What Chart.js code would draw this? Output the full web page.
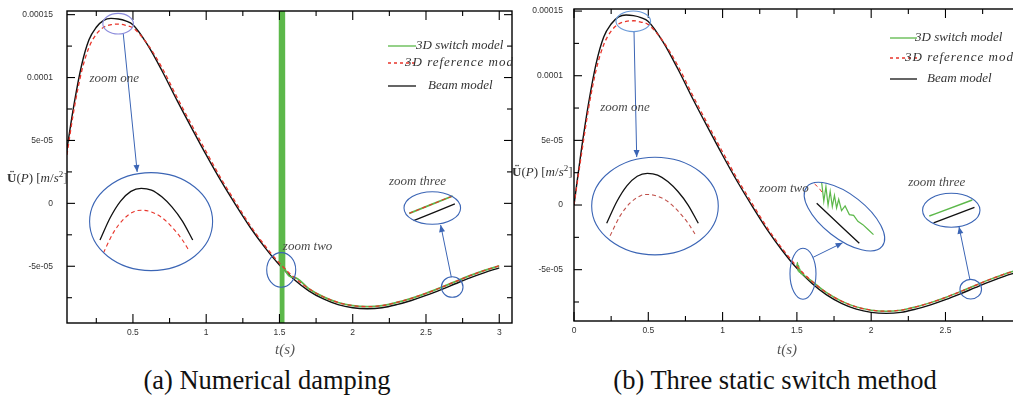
<!DOCTYPE html>
<html lang="en">
<head>
<meta charset="UTF-8" />
<title>Acceleration at P</title>
<script src="https://cdn.jsdelivr.net/npm/chart.js"></script>
<style>
    html, body { margin: 0; padding: 0; background: #fff; overflow: hidden; width: 1013px; height: 395px; }
    canvas { position: absolute; top: 0; }
    #chartA { left: 0; }
    #chartB { left: 513px; }
    .lbl { position: absolute; font-family: "Liberation Serif", "DejaVu Serif", serif; white-space: nowrap; }
    .ytitle { font-size: 13px; color: #333; line-height: 15px; }
    .ytitle sup { font-size: 9px; line-height: 0; }
    .xtitle { font-size: 15px; font-style: italic; color: #555; transform: translateX(-50%); }
    .caption { font-size: 26.5px; line-height: 27px; color: #111; transform: translateX(-50%); }
</style>
</head>
<body>

<canvas id="chartA" width="514" height="345"></canvas>
<canvas id="chartB" width="530" height="345"></canvas>

<div class="lbl ytitle" style="left:7px; top:170px;"><b>Ü</b>(<i>P</i>) [<i>m</i>/<i>s</i><sup>2</sup>]</div>
<div class="lbl ytitle" style="left:512px; top:164px;"><b>Ü</b>(<i>P</i>) [<i>m</i>/<i>s</i><sup>2</sup>]</div>
<div class="lbl xtitle" style="left:285px; top:341px;">t(s)</div>
<div class="lbl xtitle" style="left:787px; top:341px;">t(s)</div>
<div class="lbl caption" style="left:267px; top:367px;">(a) Numerical damping</div>
<div class="lbl caption" style="left:775px; top:367px;">(b) Three static switch method</div>

<script>
    // ---- data (time in s, acceleration in m/s^2) ----
    const timeS = [0, 0.05, 0.1, 0.15, 0.2, 0.25, 0.3, 0.35, 0.4, 0.45, 0.5, 0.6, 0.7, 0.8, 0.9, 1.0,
        1.1, 1.2, 1.3, 1.4, 1.5, 1.6, 1.7, 1.8, 1.9, 2.0, 2.1, 2.2, 2.3, 2.4, 2.5, 2.6, 2.7, 2.8, 2.9, 3.0];
    const beamModel = [0, 4.3e-5, 8.0e-5, 11.0e-5, 13.0e-5, 14.0e-5, 14.55e-5, 14.7e-5, 14.65e-5, 14.5e-5,
        14.2e-5, 12.6e-5, 10.5e-5, 8.2e-5, 6.0e-5, 3.85e-5, 1.8e-5, -0.1e-5, -1.9e-5, -3.5e-5, -4.9e-5,
        -6.05e-5, -6.95e-5, -7.6e-5, -8.05e-5, -8.3e-5, -8.38e-5, -8.3e-5, -8.05e-5, -7.72e-5, -7.32e-5,
        -6.87e-5, -6.39e-5, -5.92e-5, -5.5e-5, -5.13e-5];
    const refModel = [0, 3.9e-5, 7.6e-5, 10.5e-5, 12.4e-5, 13.45e-5, 14.0e-5, 14.2e-5, 14.25e-5, 14.15e-5,
        13.95e-5, 12.65e-5, 10.75e-5, 8.45e-5, 6.25e-5, 4.1e-5, 2.0e-5, 0.1e-5, -1.75e-5, -3.35e-5, -4.75e-5,
        -5.88e-5, -6.78e-5, -7.43e-5, -7.88e-5, -8.13e-5, -8.21e-5, -8.13e-5, -7.88e-5, -7.55e-5, -7.15e-5,
        -6.7e-5, -6.22e-5, -5.75e-5, -5.33e-5, -4.96e-5];

    // (a) switch with numerical damping: burst right after the switch at 1.5 s
    const switchTimeA = [1.5, 1.506, 1.509, 1.512, 1.515, 1.518, 1.521, 1.524, 1.527, 1.530, 1.534,
        1.6, 1.7, 1.8, 1.9, 2.0, 2.1, 2.2, 2.3, 2.4, 2.5, 2.6, 2.7, 2.8, 2.9, 3.0];
    const switchA = [-4.75e-5, 60e-5, -60e-5, 60e-5, -60e-5, 60e-5, -60e-5, 60e-5, -60e-5, 60e-5, -5.1e-5,
        -5.88e-5, -6.78e-5, -7.43e-5, -7.88e-5, -8.13e-5, -8.21e-5, -8.13e-5, -7.88e-5, -7.55e-5, -7.15e-5,
        -6.7e-5, -6.22e-5, -5.75e-5, -5.33e-5, -4.96e-5];

    // (b) three static switch: small ripple after 1.5 s
    const switchTimeB = [1.5, 1.504, 1.508, 1.512, 1.516, 1.52, 1.525, 1.53, 1.536, 1.543, 1.55,
        1.6, 1.7, 1.8, 1.9, 2.0, 2.1, 2.2, 2.3, 2.4, 2.5, 2.6, 2.7, 2.8, 2.9, 3.0];
    const switchB = [-4.75e-5, -4.45e-5, -5.1e-5, -4.7e-5, -5.2e-5, -4.95e-5, -5.3e-5, -5.15e-5, -5.38e-5,
        -5.35e-5, -5.45e-5, -5.88e-5, -6.78e-5, -7.43e-5, -7.88e-5, -8.13e-5, -8.21e-5, -8.13e-5, -7.88e-5,
        -7.55e-5, -7.15e-5, -6.7e-5, -6.22e-5, -5.75e-5, -5.33e-5, -4.96e-5];

    // magnified pieces shown in the insets
    const zoomOneT = [0.26, 0.29, 0.32, 0.35, 0.38, 0.41, 0.44, 0.47, 0.50, 0.53];
    const zoomOneBeam = [13.75e-5, 14.12e-5, 14.39e-5, 14.55e-5, 14.60e-5, 14.57e-5, 14.46e-5, 14.29e-5, 14.06e-5, 13.75e-5];
    const zoomOneRefT = [0.27, 0.30, 0.33, 0.36, 0.38, 0.41, 0.44, 0.47, 0.50, 0.52];
    const zoomOneRef = [13.54e-5, 13.88e-5, 14.10e-5, 14.22e-5, 14.24e-5, 14.21e-5, 14.12e-5, 13.96e-5, 13.75e-5, 13.57e-5];

    const zoomTwoBeamT = [1.50, 1.56];
    const zoomTwoBeam = [-5.15e-5, -5.75e-5];
    const zoomTwoRefT = [1.497, 1.503, 1.508];
    const zoomTwoRef = [-4.86e-5, -4.92e-5, -4.99e-5];
    const zoomTwoSwitchT = [1.507, 1.510, 1.513, 1.516, 1.519, 1.522, 1.525, 1.528, 1.531, 1.535,
        1.540, 1.546, 1.552, 1.558, 1.565, 1.572, 1.580];
    const zoomTwoSwitch = [-4.84e-5, -5.12e-5, -4.90e-5, -5.18e-5, -4.97e-5, -5.20e-5, -5.03e-5, -5.22e-5,
        -5.09e-5, -5.26e-5, -5.19e-5, -5.32e-5, -5.33e-5, -5.42e-5, -5.47e-5, -5.54e-5, -5.62e-5];

    const zoomThreeT = [2.64, 2.74];
    const zoomThreeSwitch = [-6.05e-5, -5.35e-5];
    const zoomThreeRef = [-6.05e-5, -5.35e-5];
    const zoomThreeBeamT = [2.65, 2.745];
    const zoomThreeBeam = [-6.35e-5, -5.67e-5];

    // axis ticks
    const xTickValues = [0, 0.25, 0.5, 0.75, 1, 1.25, 1.5, 1.75, 2, 2.25, 2.5, 2.75, 3];
    const xTickLabels = ['0', '', '0.5', '', '1', '', '1.5', '', '2', '', '2.5', '', '3'];
    const yTickValues = [-7.5e-5, -5e-5, -2.5e-5, 0, 2.5e-5, 5e-5, 7.5e-5, 10e-5, 12.5e-5, 15e-5];
    const yTickLabels = ['', '-5e-05', '', '0', '', '5e-05', '', '0.0001', '', '0.00015'];

    const legendTexts = ['3D switch model', '3D reference model', 'Beam model'];

    // ---- styles ----
    const BLACK = '#111111';
    const RED = '#e8352b';
    const GREEN = '#5cb84a';
    const BLUE = '#3b65b5';
    const NOTE_FONT = 'italic 13px "Liberation Serif", "DejaVu Serif", serif';

    function pts(xs, ys) {
        return xs.map((x, i) => ({ x: x, y: ys[i] }));
    }

    function tickLabel(vals, labels, v) {
        const i = vals.findIndex(t => Math.abs(t - v) < 1e-9);
        return i < 0 ? '' : labels[i];
    }

    // value range so that v0 lands on pixel p0 and v1 on p1
    function fitAxis(v0, p0, v1, p1, pMin, pMax) {
        const k = (v1 - v0) / (p1 - p0);
        return { min: v0 + (pMin - p0) * k, max: v0 + (pMax - p0) * k };
    }

    function fixBox(size) {
        return function (scale) {
            if (scale.isHorizontal()) scale.height = size; else scale.width = size;
            scale.paddingTop = scale.paddingBottom = scale.paddingLeft = scale.paddingRight = 0;
        };
    }

    function line(ctx, x0, y0, x1, y1) {
        ctx.beginPath();
        ctx.moveTo(x0, y0);
        ctx.lineTo(x1, y1);
        ctx.stroke();
    }

    // frame with inward ticks, zoom marks, legend
    const frameAndNotes = {
        id: 'frameAndNotes',
        afterDatasetsDraw(chart, args, opts) {
            const ctx = chart.ctx;
            const a = chart.chartArea;
            const xs = chart.scales.x;
            const ys = chart.scales.y;
            ctx.save();
            ctx.strokeStyle = '#000';
            ctx.lineWidth = 1.4;
            ctx.strokeRect(a.left, a.top, a.right - a.left, a.bottom - a.top);
            ctx.lineWidth = 1.1;
            xs.ticks.forEach(t => {
                const px = xs.getPixelForValue(t.value);
                const len = t.label ? 9 : 5;
                line(ctx, px, a.bottom, px, a.bottom - len);
                line(ctx, px, a.top, px, a.top + len);
            });
            ys.ticks.forEach(t => {
                const py = ys.getPixelForValue(t.value);
                const len = t.label ? 8 : 5;
                line(ctx, a.left, py, a.left + len, py);
                line(ctx, a.right, py, a.right - len, py);
            });

            // ellipses
            opts.ellipses.forEach(e => {
                ctx.strokeStyle = e.color || BLUE;
                ctx.lineWidth = 1.1;
                ctx.beginPath();
                ctx.ellipse(xs.getPixelForValue(e.t), ys.getPixelForValue(e.v), e.rx, e.ry, e.rot || 0, 0, Math.PI * 2);
                ctx.stroke();
            });
            // arrows
            opts.arrows.forEach(r => {
                const x0 = xs.getPixelForValue(r.t0), y0 = ys.getPixelForValue(r.v0);
                const x1 = xs.getPixelForValue(r.t1), y1 = ys.getPixelForValue(r.v1);
                const ang = Math.atan2(y1 - y0, x1 - x0);
                ctx.strokeStyle = BLUE;
                ctx.fillStyle = BLUE;
                ctx.lineWidth = 1;
                line(ctx, x0, y0, x1, y1);
                ctx.beginPath();
                ctx.moveTo(x1, y1);
                ctx.lineTo(x1 - 7 * Math.cos(ang) + 3 * Math.sin(ang), y1 - 7 * Math.sin(ang) - 3 * Math.cos(ang));
                ctx.lineTo(x1 - 7 * Math.cos(ang) - 3 * Math.sin(ang), y1 - 7 * Math.sin(ang) + 3 * Math.cos(ang));
                ctx.closePath();
                ctx.fill();
            });
            // zoom labels
            ctx.font = NOTE_FONT;
            ctx.fillStyle = '#4a4a4a';
            ctx.textAlign = 'center';
            ctx.textBaseline = 'middle';
            opts.texts.forEach(n => {
                ctx.fillText(n.text, xs.getPixelForValue(n.t), ys.getPixelForValue(n.v));
            });

            // legend
            const lg = opts.legend;
            const colors = [GREEN, RED, BLACK];
            ctx.textAlign = 'left';
            ctx.fillStyle = '#333';
            lg.rows.forEach((y, i) => {
                ctx.strokeStyle = colors[i];
                ctx.lineWidth = 1.3;
                ctx.setLineDash(i === 1 ? [3, 3] : []);
                line(ctx, lg.x0, y, lg.x1, y);
                ctx.setLineDash([]);
                ctx.letterSpacing = i === 1 ? '1px' : '0px';
                ctx.fillText(legendTexts[i], lg.textX[i], y);
            });
            ctx.letterSpacing = '0px';
            ctx.restore();
        }
    };

    function buildChart(cfg) {
        const a = cfg.area;
        const off = cfg.offsetX;
        const scales = {
            x: {
                type: 'linear', position: 'bottom', min: cfg.xRange[0], max: cfg.xRange[1],
                grid: { display: false, drawTicks: false }, border: { display: false },
                afterBuildTicks: s => { s.ticks = xTickValues.filter(v => v >= s.min && v <= s.max).map(v => ({ value: v })); },
                afterFit: fixBox(20),
                ticks: {
                    autoSkip: false, maxRotation: 0, padding: 5, color: '#333',
                    font: { family: '"Liberation Sans", Arial, sans-serif', size: 8.5 },
                    callback: v => tickLabel(xTickValues, xTickLabels, v)
                }
            },
            y: {
                type: 'linear', position: 'left', min: cfg.yRange[0], max: cfg.yRange[1],
                grid: { display: false, drawTicks: false }, border: { display: false },
                afterBuildTicks: s => { s.ticks = yTickValues.filter(v => v >= s.min && v <= s.max).map(v => ({ value: v })); },
                afterFit: fixBox(a.left),
                ticks: {
                    autoSkip: false, padding: cfg.yPad, color: '#333',
                    font: { family: '"Liberation Sans", Arial, sans-serif', size: 8.5 },
                    callback: v => tickLabel(yTickValues, yTickLabels, v)
                }
            }
        };
        // hidden axes that place the magnified pieces inside the insets
        Object.keys(cfg.insets).forEach(key => {
            const m = cfg.insets[key];
            const rx = fitAxis(m.x[0], m.x[1] - off, m.x[2], m.x[3] - off, a.left, a.right);
            const ry = fitAxis(m.y[0], m.y[1], m.y[2], m.y[3], a.bottom, a.top);
            scales['x' + key] = { type: 'linear', position: 'bottom', display: false, min: rx.min, max: rx.max, afterFit: fixBox(0) };
            scales['y' + key] = { type: 'linear', position: 'left', display: false, min: ry.min, max: ry.max, afterFit: fixBox(0) };
        });

        return new Chart(document.getElementById(cfg.id), {
            type: 'line',
            data: { datasets: cfg.datasets },
            options: {
                responsive: false,
                animation: false,
                parsing: false,
                normalized: true,
                events: [],
                layout: {
                    autoPadding: false,
                    padding: { left: 0, top: a.top, right: cfg.width - a.right, bottom: cfg.height - a.bottom - 20 }
                },
                elements: { point: { radius: 0 }, line: { cubicInterpolationMode: 'monotone' } },
                plugins: {
                    legend: { display: false },
                    tooltip: { enabled: false },
                    frameAndNotes: cfg.notes
                },
                scales: scales
            },
            plugins: [frameAndNotes]
        });
    }

    function ds(data, color, width, extra) {
        return Object.assign({ data: data, borderColor: color, backgroundColor: color, borderWidth: width, fill: false }, extra || {});
    }
    const dash = { borderDash: [4, 3] };

    // (a) Numerical damping
    buildChart({
        id: 'chartA', offsetX: 0, width: 514, height: 345,
        area: { left: 67, right: 512, top: 11, bottom: 323 },
        xRange: [0.05, 3.087], yRange: [-9.51e-5, 15.29e-5], yPad: 14,
        insets: {
            z1: { x: [0.26, 100, 0.53, 192.7], y: [14.60e-5, 188.3, 13.75e-5, 240] },
            z3: { x: [2.64, 409.3, 2.74, 452.7], y: [-6.05e-5, 213.3, -5.35e-5, 196] }
        },
        datasets: [
            ds(pts(timeS, refModel), RED, 1.3, dash),
            ds(pts(switchTimeA, switchA), GREEN, 1.8),
            ds(pts(timeS, beamModel), BLACK, 1.4),
            ds(pts(zoomOneT, zoomOneBeam), BLACK, 1.3, { xAxisID: 'xz1', yAxisID: 'yz1' }),
            ds(pts(zoomOneRefT, zoomOneRef), RED, 1.1, Object.assign({ xAxisID: 'xz1', yAxisID: 'yz1' }, dash)),
            ds(pts(zoomThreeT, zoomThreeRef), RED, 1.1, Object.assign({ xAxisID: 'xz3', yAxisID: 'yz3' }, dash)),
            ds(pts(zoomThreeT, zoomThreeSwitch), GREEN, 1.8, { xAxisID: 'xz3', yAxisID: 'yz3' }),
            ds(pts(zoomThreeBeamT, zoomThreeBeam), BLACK, 1.3, { xAxisID: 'xz3', yAxisID: 'yz3' })
        ],
        notes: {
            ellipses: [
                { t: 0.399, v: 14.28e-5, rx: 15.3, ry: 10.3, color: '#8c8cdc' },
                { t: 0.624, v: -1.45e-5, rx: 61.5, ry: 49 },
                { t: 1.512, v: -5.29e-5, rx: 14.5, ry: 17.3 },
                { t: 2.543, v: -0.37e-5, rx: 28.3, ry: 16.3 },
                { t: 2.679, v: -6.65e-5, rx: 10.8, ry: 10.3 }
            ],
            arrows: [
                { t0: 0.434, v0: 13.47e-5, t1: 0.529, v1: 2.5e-5 },
                { t0: 2.673, v0: -5.87e-5, t1: 2.600, v1: -1.72e-5 }
            ],
            texts: [
                { t: 0.372, v: 9.89e-5, text: 'zoom one' },
                { t: 1.692, v: -3.44e-5, text: 'zoom two' },
                { t: 2.442, v: 1.72e-5, text: 'zoom three' }
            ],
            legend: { x0: 388, x1: 416, rows: [46, 63, 86], textX: [416, 405, 428] }
        }
    });

    // (b) Three static switch method
    buildChart({
        id: 'chartB', offsetX: 513, width: 530, height: 345,
        area: { left: 61, right: 520, top: 9, bottom: 321 },
        xRange: [0, 3.089], yRange: [-8.97e-5, 15.16e-5], yPad: 11,
        insets: {
            z1: { x: [0.26, 606.7, 0.53, 698.3], y: [14.60e-5, 173.3, 13.75e-5, 223.3] },
            z2: { x: [1.50, 816.7, 1.56, 859.3], y: [-5.15e-5, 203.3, -5.75e-5, 243.3] },
            z3: { x: [2.64, 929.3, 2.74, 972.3], y: [-6.05e-5, 216, -5.35e-5, 200] }
        },
        datasets: [
            ds(pts(timeS, refModel), RED, 1.3, dash),
            ds(pts(switchTimeB, switchB), GREEN, 1.5),
            ds(pts(timeS, beamModel), BLACK, 1.4),
            ds(pts(zoomOneT, zoomOneBeam), BLACK, 1.3, { xAxisID: 'xz1', yAxisID: 'yz1' }),
            ds(pts(zoomOneRefT, zoomOneRef), '#c0504a', 1.1, Object.assign({ xAxisID: 'xz1', yAxisID: 'yz1' }, dash)),
            ds(pts(zoomTwoRefT, zoomTwoRef), RED, 1.0, Object.assign({ xAxisID: 'xz2', yAxisID: 'yz2' }, dash)),
            ds(pts(zoomTwoSwitchT, zoomTwoSwitch), GREEN, 1.2, { xAxisID: 'xz2', yAxisID: 'yz2', cubicInterpolationMode: 'default', tension: 0 }),
            ds(pts(zoomTwoBeamT, zoomTwoBeam), BLACK, 1.3, { xAxisID: 'xz2', yAxisID: 'yz2' }),
            ds(pts(zoomThreeT, zoomThreeSwitch), GREEN, 1.5, { xAxisID: 'xz3', yAxisID: 'yz3' }),
            ds(pts(zoomThreeBeamT, zoomThreeBeam), BLACK, 1.3, { xAxisID: 'xz3', yAxisID: 'yz3' })
        ],
        notes: {
            ellipses: [
                { t: 0.399, v: 14.21e-5, rx: 17.3, ry: 10.3, color: '#6a9ad8' },
                { t: 0.545, v: -0.08e-5, rx: 63.3, ry: 48.8 },
                { t: 1.541, v: -5.32e-5, rx: 13, ry: 25.5 },
                { t: 1.820, v: -0.90e-5, rx: 48, ry: 22, rot: 0.663 },
                { t: 2.539, v: -0.41e-5, rx: 28.7, ry: 17 },
                { t: 2.670, v: -6.51e-5, rx: 10.8, ry: 9.8 }
            ],
            arrows: [
                { t0: 0.404, v0: 13.38e-5, t1: 0.422, v1: 3.71e-5 },
                { t0: 1.610, v0: -4.04e-5, t1: 1.808, v1: -2.92e-5 },
                { t0: 2.665, v0: -5.80e-5, t1: 2.591, v1: -1.68e-5 }
            ],
            texts: [
                { t: 0.343, v: 7.50e-5, text: 'zoom one' },
                { t: 1.413, v: 1.31e-5, text: 'zoom two' },
                { t: 2.441, v: 1.70e-5, text: 'zoom three' }
            ],
            legend: { x0: 377, x1: 404, rows: [38, 58, 79], textX: [402, 392, 414] }
        }
    });
</script>

</body>
</html>
